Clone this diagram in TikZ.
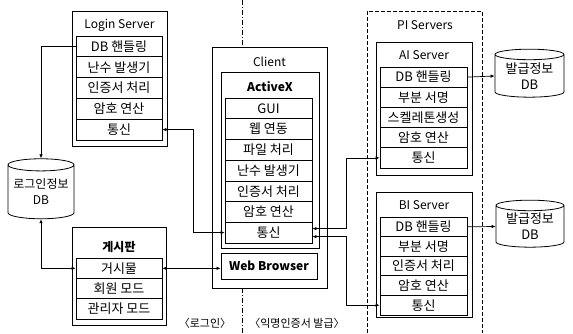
\documentclass[tikz,border=0pt]{standalone}
\usepackage{fontspec}
\setmainfont{Noto Sans CJK KR}
\usetikzlibrary{arrows.meta,shapes.geometric}

\tikzset{
  box/.style={draw, line width=0.8pt, inner sep=0pt},
  cell/.style={draw, line width=0.7pt, minimum height=20.7pt, inner sep=0pt,
    font=\fontsize{13}{15}\selectfont},
  title/.style={font=\fontsize{12}{14}\selectfont},
  btitle/.style={font=\fontsize{12}{14}\selectfont\bfseries},
  db/.style={cylinder, shape border rotate=90, draw, line width=0.8pt, aspect=0.22,
    align=center, inner sep=0pt, font=\fontsize{13}{16}\selectfont},
  link/.style={line width=0.7pt, {Latex[length=4pt,width=3.5pt]}-{Latex[length=4pt,width=3.5pt]}},
  tolink/.style={line width=0.7pt, -{Latex[length=4pt,width=3.5pt]}},
}

\begin{document}
\begin{tikzpicture}[x=1pt,y=-1pt]
  \useasboundingbox (0,0) rectangle (573,333);

  % login server
  \node[box, minimum width=95pt, minimum height=135pt] (login) at (119.5,78.5) {};
  \node[title] (logint) at (119.5,25) {Login Server};
  \foreach \txt [count=\i] in {DB 핸들링, 난수 발생기, 인증서 처리, 암호 연산, 통신}
    \node[cell, minimum width=86pt, minimum height=20.8pt] (login\i) at (119,46.4+20.8*\i-20.8) {\txt};

  \node[db, minimum width=66pt, minimum height=60pt, font=\fontsize{12}{16}\selectfont] (logindb) at (41,192) {로그인정보\\DB};

  % bulletin board
  \node[box, minimum width=94pt, minimum height=98pt] (board) at (119,276) {};
  \node[btitle] (boardt) at (119,247) {게시판};
  \foreach \txt [count=\i] in {거시물, 회원 모드, 관리자 모드}
    \node[cell, minimum width=86pt, minimum height=20.3pt] (board\i) at (119,268.3+20.3*\i-20.3) {\txt};

  % client side
  \node[box, minimum width=115pt, minimum height=241pt] (client) at (269.5,167.5) {};
  \node[title] (clientt) at (269.5,62) {Client};
  \node[box, minimum width=98pt, minimum height=176pt] (activex) at (270,160) {};
  \node[btitle] (activext) at (270,87) {ActiveX};
  \foreach \txt [count=\i] in {GUI, 웹 연동, 파일 처리, 난수 발생기, 인증서 처리, 암호 연산, 통신}
    \node[cell, minimum width=87pt] (ax\i) at (268.5,108.4+20.7*\i-20.7) {\txt};
  \node[box, btitle, minimum width=96pt, minimum height=26pt] (web) at (269,266) {Web Browser};

  \draw[line width=0.7pt, dash pattern=on 5pt off 2pt on 1pt off 2pt] (242,0) -- (client.north -| 242,0);
  \draw[line width=0.7pt, dash pattern=on 5pt off 2pt on 1pt off 2pt] (client.south -| 242,0) -- (242,333);
  \node[title, font=\fontsize{11}{13}\selectfont] (loginlbl) at (205,323) {〈로그인〉};
  \node[title, font=\fontsize{11}{13}\selectfont] (issuelbl) at (297,323) {〈익명인증서 발급〉};

  % PI servers
  \draw[line width=0.7pt, dash pattern=on 4pt off 2pt] (367,333) -- (367,11) -- (482,11) -- (482,333);
  \node[title] (pit) at (425,25) {PI Servers};

  \node[box, minimum width=96pt, minimum height=133pt] (ai) at (424,108.5) {};
  \node[title] (ait) at (424,55) {AI Server};
  \foreach \txt [count=\i] in {DB 핸들링, 부분 서명, 스켈레톤생성, 암호 연산, 통신}
    \node[cell, minimum width=87pt, minimum height=20.2pt] (ai\i) at (423.5,77.1+20.2*\i-20.2) {\txt};
  \node[db, minimum width=69pt, minimum height=48pt] (aidb) at (529.5,76) {발급정보\\DB};

  \node[box, minimum width=96pt, minimum height=125pt] (bi) at (424,254.5) {};
  \node[title] (bit) at (424,205) {BI Server};
  \foreach \txt [count=\i] in {DB 핸들링, 부분 서명, 인증서 처리, 암호 연산, 통신}
    \node[cell, minimum width=87pt, minimum height=19.6pt] (bi\i) at (423.5,226.8+19.6*\i-19.6) {\txt};
  \node[db, minimum width=68pt, minimum height=47pt] (bidb) at (530,226.5) {발급정보\\DB};

  % connectors
  \coordinate (loginbus) at (193,0);
  \coordinate (pibus) at (346,0);
  \draw[tolink] (login1.west) -| (logindb.north);
  \draw[link] (logindb.south) |- (board1.west);
  \draw[link] (login5.east) -| (loginbus |- ax7.west) -- (ax7.west);
  \draw[link] (board1.east) -- (board1.east -| web.west);
  \draw[link] ([yshift=4pt]ax7.east) -| (pibus |- ai5.west) -- (ai5.west);
  \draw[link] ([yshift=-4pt]ax7.east) -| (pibus |- bi5.west) -- (bi5.west);
  \draw[tolink] (ai1.east) -- (aidb.west);
  \draw[tolink] (bi1.east) -- (bidb.west);
\end{tikzpicture}
\end{document}
